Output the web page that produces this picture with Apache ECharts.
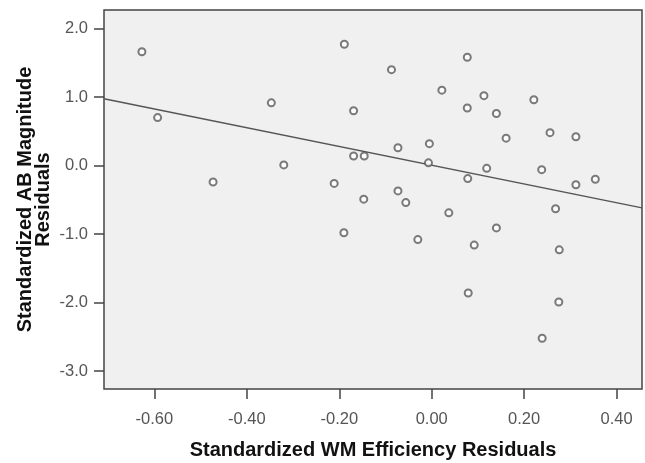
<!DOCTYPE html>
<html>
<head>
<meta charset="utf-8">
<script src="https://cdn.jsdelivr.net/npm/echarts@6/dist/echarts.min.js"></script>
<style>
  html, body { margin: 0; padding: 0; background: #fff; }
  #main { width: 645px; height: 463px; }
</style>
</head>
<body>
<div id="main"></div>
<script>
// residuals
var wmResid = [-0.627, -0.593, -0.473, -0.347, -0.320, -0.189, -0.087, -0.169, 0.077, 0.022,
               0.077, -0.073, -0.005, -0.169, -0.146, 0.113, 0.140, 0.221, 0.161, 0.256,
               0.312, 0.119, 0.078, 0.238, 0.312, 0.354, -0.007, -0.211, -0.147, -0.073,
               -0.056, 0.037, -0.190, -0.030, 0.092, 0.268, 0.140, 0.276, 0.079, 0.275, 0.239];
var abResid = [1.66, 0.70, -0.24, 0.915, 0.01, 1.77, 1.40, 0.80, 1.58, 1.10,
               0.84, 0.26, 0.32, 0.14, 0.14, 1.02, 0.76, 0.96, 0.40, 0.48,
               0.42, -0.04, -0.19, -0.06, -0.28, -0.20, 0.04, -0.26, -0.49, -0.37,
               -0.54, -0.69, -0.98, -1.08, -1.16, -0.63, -0.91, -1.23, -1.86, -1.99, -2.52];

// fit line
var fitSlope = -1.367;
var fitIntercept = 0.005;

var xTicks = [-0.6, -0.4, -0.2, 0, 0.2, 0.4];
var yTicks = [-3, -2, -1, 0, 1, 2];

var xMin = -0.709, xMax = 0.455;
var yMin = -3.26, yMax = 2.27;

var points = [];
for (var i = 0; i < wmResid.length; i++) {
    points.push([wmResid[i], abResid[i]]);
}
var fitLine = [
    [xMin, fitIntercept + fitSlope * xMin],
    [xMax, fitIntercept + fitSlope * xMax]
];

var chart = echarts.init(document.getElementById('main'));

var labelStyle = {
    color: '#555',
    fontSize: 16.5,
    fontFamily: 'Liberation Sans, Arial, sans-serif'
};
var titleStyle = {
    color: '#111',
    fontSize: 20,
    fontWeight: 'bold',
    fontFamily: 'Liberation Sans, Arial, sans-serif',
    lineHeight: 18
};

var option = {
    backgroundColor: '#fff',
    animation: false,
    grid: {
        left: 104,
        top: 10,
        right: 3,
        bottom: 74,
        containLabel: false,
        outerBoundsMode: 'none',
        show: true,
        backgroundColor: '#f0f0f0',
        borderColor: '#444',
        borderWidth: 1.5
    },
    xAxis: {
        type: 'value',
        min: xMin,
        max: xMax,
        name: 'Standardized WM Efficiency Residuals',
        nameLocation: 'middle',
        nameGap: 52,
        nameMoveOverlap: false,
        nameTextStyle: titleStyle,
        axisLine: { show: false, onZero: false },
        splitLine: { show: false },
        axisTick: {
            show: true,
            length: 10,
            customValues: xTicks,
            lineStyle: { color: '#444', width: 1.5 }
        },
        axisLabel: Object.assign({
            customValues: xTicks,
            margin: 22,
            formatter: function (v) { return v.toFixed(2); }
        }, labelStyle)
    },
    yAxis: {
        type: 'value',
        min: yMin,
        max: yMax,
        name: 'Standardized AB Magnitude\nResiduals',
        nameLocation: 'middle',
        nameRotate: 90,
        nameGap: 52,
        nameMoveOverlap: false,
        nameTextStyle: titleStyle,
        axisLine: { show: false, onZero: false },
        splitLine: { show: false },
        axisTick: {
            show: true,
            length: 10,
            customValues: yTicks,
            lineStyle: { color: '#444', width: 1.5 }
        },
        axisLabel: Object.assign({
            customValues: yTicks,
            margin: 16,
            formatter: function (v) { return v.toFixed(1); }
        }, labelStyle)
    },
    series: [{
        type: 'line',
        data: fitLine,
        symbol: 'none',
        lineStyle: { color: '#555', width: 1.5 },
        z: 2
    }, {
        type: 'scatter',
        data: points,
        symbol: 'emptyCircle',
        symbolSize: 7,
        itemStyle: { color: '#5a5a5a', borderColor: '#5a5a5a', borderWidth: 1.6 },
        z: 3
    }]
};

chart.setOption(option);
</script>
</body>
</html>
